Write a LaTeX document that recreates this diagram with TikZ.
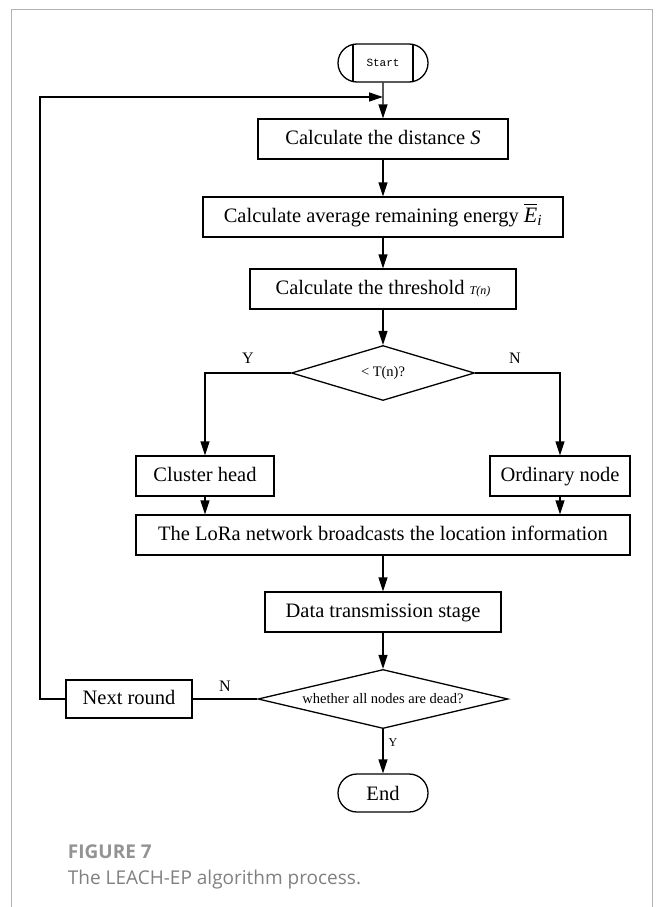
\documentclass[tikz,border=0pt]{standalone}
\usepackage{amsmath}
\usepackage{fontspec}
\setmainfont{Liberation Serif}
\newfontfamily\capfont{Open Sans}
\newfontfamily\monofont{Liberation Mono}
\usetikzlibrary{arrows.meta,shapes.geometric,shapes.misc}

\begin{document}
\begin{tikzpicture}[
  x=1pt,
  y=-1pt,
  line width=1.3pt,
  mybox/.style={
    draw,
    rectangle,
    minimum height=40pt,
    inner sep=0pt,
    text height=14.5pt,
    text depth=4.5pt,
    font=\fontsize{20.5}{23}\selectfont
  },
  mydec/.style={
    draw,
    diamond,
    aspect=3.3,
    inner sep=0pt,
    font=\fontsize{14.5}{16}\selectfont
  },
  myterm/.style={
    draw,
    rounded rectangle,
    minimum width=90pt,
    minimum height=38pt,
    inner sep=0pt
  },
  myarrow/.style={
    -{Triangle[length=14pt,width=9pt]}
  },
  mylabel/.style={
    font=\fontsize{16}{18}\selectfont
  }
]
\useasboundingbox (0,0) rectangle (656,907);
\draw[gray!60,line width=0.8pt] (11,907) -- (11,9) -- (652,9) -- (652,907);

\node[myterm] (start) at (383,63) {\monofont\fontsize{11}{13}\selectfont Start};
\draw (353,44) -- (353,82);
\draw (413,44) -- (413,82);

\node[mybox,minimum width=250pt] (dist) at (383,139) {Calculate the distance \textit{S}};
\node[mybox,minimum width=360pt] (avg) at (383,217) {Calculate average remaining energy {\fontsize{22}{23}\selectfont$\overline{\text{\itshape E}}_{\text{\itshape i}}$}};
\node[mybox,minimum width=266pt] (thr) at (383,289) {Calculate the threshold {\fontsize{12}{14}\selectfont\itshape T(n)}};
\node[mydec,minimum width=183pt,minimum height=55pt] (dec1) at (383,373) {< T(n)?};
\node[mybox,minimum width=138pt] (head) at (205,476) {Cluster head};
\node[mybox,minimum width=140pt] (ord) at (560,476) {Ordinary node};
\node[mybox,minimum width=494pt] (lora) at (383,535) {The LoRa network broadcasts the location information};
\node[mybox,minimum width=236pt] (data) at (383,612) {Data transmission stage};
\node[mydec,minimum width=250pt,minimum height=58pt] (dec2) at (383,699) {whether all nodes are dead?};
\node[mybox,minimum width=126pt,minimum height=38pt] (next) at (129,699) {Next round};
\node[myterm,font=\fontsize{20.5}{23}\selectfont] (end) at (383,793) {End};

\coordinate (loop) at (40,97);

% main column
\draw[myarrow] (start) -- (dist);
\draw[myarrow] (dist) -- (avg);
\draw[myarrow] (avg) -- (thr);
\draw[myarrow] (thr) -- (dec1);
\draw[myarrow] (dec1.west) -| (head.north);
\draw[myarrow] (dec1.east) -| (ord.north);
\draw[myarrow] (head) -- (head |- lora.north);
\draw[myarrow] (ord) -- (ord |- lora.north);
\draw[myarrow] (lora) -- (data);
\draw[myarrow] (data) -- (dec2);
\draw[myarrow] (dec2) -- (end);
\draw (dec2.west) -- (next.east);
\draw[myarrow] (next.west) -| (loop) -- (383,97);

\node[mylabel] (ylab) at (248,358) {Y};
\node[mylabel] (nlab) at (515,358) {N};
\node[mylabel] (nlab2) at (225,686) {N};
\node[font=\fontsize{12}{14}\selectfont] (ylab2) at (393,743) {Y};

\node[anchor=base west,text=gray!85,font=\capfont\bfseries\fontsize{19}{22}\selectfont] (fig) at (64,858) {FIGURE 7};
\node[anchor=base west,text=gray,font=\capfont\fontsize{19}{22}\selectfont] (cap) at (64,884) {The LEACH-EP algorithm process.};
\end{tikzpicture}
\end{document}
